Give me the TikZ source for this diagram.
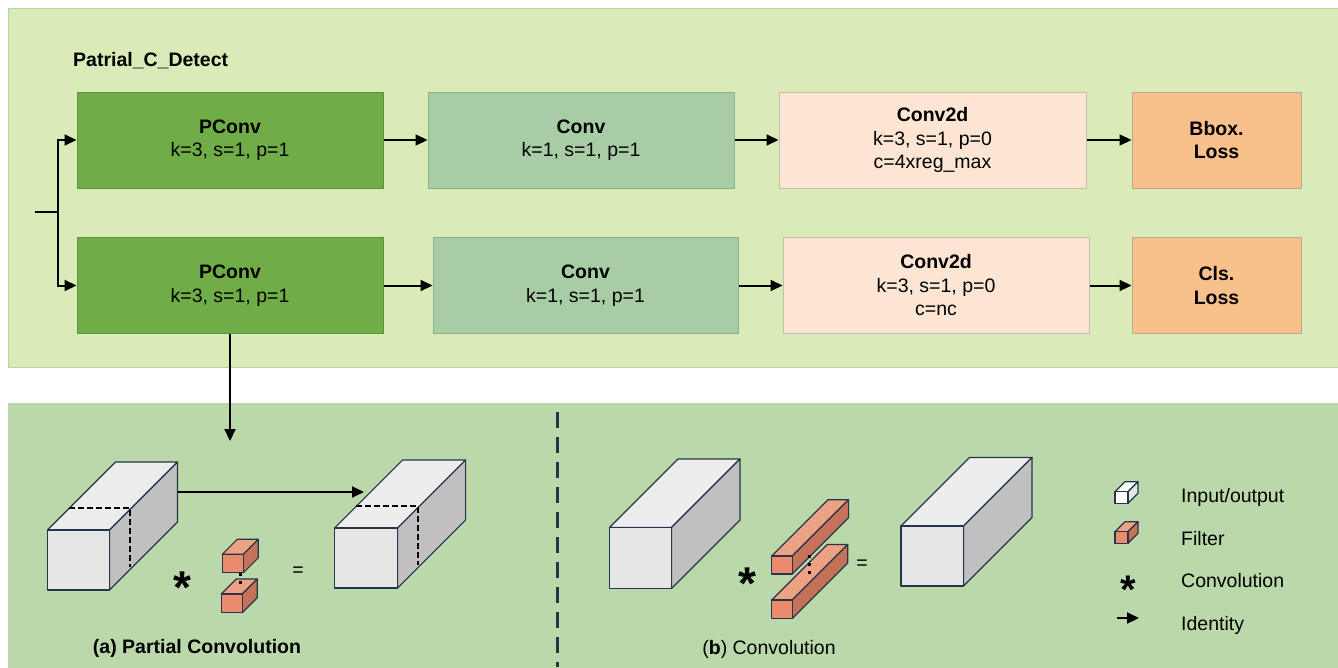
\documentclass[tikz,border=0pt]{standalone}
\usepackage{fontspec}
\setmainfont{Liberation Sans}
\usetikzlibrary{positioning,arrows.meta}

\definecolor{panelA}{HTML}{D9EBB7}
\definecolor{panelAedge}{HTML}{BCD2A0}
\definecolor{panelB}{HTML}{BAD8A9}
\definecolor{pconvgreen}{HTML}{70AD47}
\definecolor{pconvedge}{HTML}{5F9140}
\definecolor{convgreen}{HTML}{A8CDA5}
\definecolor{convedge}{HTML}{8FAF8C}
\definecolor{headpeach}{HTML}{FDE5D3}
\definecolor{headedge}{HTML}{C9BBB0}
\definecolor{lossorange}{HTML}{F8C08B}
\definecolor{lossedge}{HTML}{B9A894}
\definecolor{edgenavy}{HTML}{263549}
\definecolor{iofront}{HTML}{E6E6E6}
\definecolor{iotop}{HTML}{EDEDED}
\definecolor{ioside}{HTML}{C0C0C0}
\definecolor{flfront}{HTML}{EA8B6D}
\definecolor{fltop}{HTML}{EEA284}
\definecolor{flside}{HTML}{C4735A}
\definecolor{lgfront}{HTML}{FFFFFF}
\definecolor{lgtop}{HTML}{FFFFFF}
\definecolor{lgside}{HTML}{E6E6E6}

\tikzset{cubeedge/.style={draw=edgenavy,line width=1.2pt,line join=round}}

\newcommand{\boxprism}[6]{%
	\filldraw[cubeedge,fill=#6top] (#1,#2) -- ++(#3,0) -- ++(#5,-#5) -- ++(-#3,0) -- cycle;
	\filldraw[cubeedge,fill=#6side] ({#1+#3},#2) -- ++(#5,-#5) -- ++(0,#4) -- ++(-#5,#5) -- cycle;
	\filldraw[cubeedge,fill=#6front] (#1,#2) rectangle ++(#3,#4);
}

\begin{document}
\begin{tikzpicture}[x=1pt,y=-1pt,
		font=\fontsize{19.5}{23.5}\selectfont,
		stage/.style={minimum height=96pt,inner sep=0pt,align=center,line width=1pt},
		pconv/.style={stage,minimum width=306pt,fill=pconvgreen,draw=pconvedge},
		conv/.style={stage,minimum width=306pt,fill=convgreen,draw=convedge},
		head/.style={stage,minimum width=307pt,fill=headpeach,draw=headedge},
		loss/.style={stage,minimum width=169pt,fill=lossorange,draw=lossedge,font=\fontsize{19.5}{23.5}\selectfont\bfseries},
		flow/.style={line width=2pt,-{Triangle[length=12pt,width=11pt]}},
		slice/.style={line width=2pt,dash pattern=on 6pt off 3pt},
		convsym/.style={inner sep=0pt,font=\fontsize{46}{46}\selectfont\bfseries},
		legendtext/.style={anchor=base west,inner sep=0pt}]
	\useasboundingbox (0,0) rectangle (1338,667);
	\filldraw[fill=panelA,draw=panelAedge,line width=1pt] (8,8) rectangle (1345,367);
	\fill[panelB] (8,403) rectangle (1345,670);

	\node[anchor=base west,inner sep=0pt,font=\fontsize{19.5}{23.5}\selectfont\bfseries] (title) at (73,66.5) {Patrial\_C\_Detect};

	\node[pconv] (p1) at (230,140) {\textbf{PConv}\\k=3, s=1, p=1};
	\node[conv] (c1) at (581,140) {\textbf{Conv}\\k=1, s=1, p=1};
	\node[head] (h1) at (932.5,140) {\textbf{Conv2d}\\k=3, s=1, p=0\\c=4xreg\_max};
	\node[loss] (l1) at (1216.5,140) {Bbox.\\Loss};
	\node[pconv] (p2) at (230,285.5) {\textbf{PConv}\\k=3, s=1, p=1};
	\node[conv,minimum width=305pt] (c2) at (585.5,285.5) {\textbf{Conv}\\k=1, s=1, p=1};
	\node[head,minimum width=306pt] (h2) at (936,285.5) {\textbf{Conv2d}\\k=3, s=1, p=0\\c=nc};
	\node[loss] (l2) at (1216.5,285.5) {Cls.\\Loss};

	\coordinate (in) at (35,212);
	\coordinate (split) at (58,212);
	\coordinate (drop) at (230,441);
	\draw[line width=2pt] (in) -- (split);
	\draw[flow] (split) |- (p1.west);
	\draw[flow] (split) |- (p2.west);
	\draw[flow] (p1) -- (c1);
	\draw[flow] (c1) -- (h1);
	\draw[flow] (h1) -- (l1);
	\draw[flow] (p2) -- (c2);
	\draw[flow] (c2) -- (h2);
	\draw[flow] (h2) -- (l2);
	\draw[flow] (p2.south) -- (drop);

	\boxprism{47.5}{530}{62}{60}{68}{io}
	\draw[slice] (69,508) -- (130,508) -- (130,567);
	\boxprism{334.6}{528}{63}{60}{68}{io}
	\draw[slice] (356.4,505.7) -- (418,505.7) -- (418,565);
	\coordinate (cubeA) at (177.5,492);
	\coordinate (cubeB) at (364,492);
	\draw[flow] (cubeA) -- (cubeB);
	\boxprism{222.3}{554.3}{21}{18.5}{15}{fl}
	\boxprism{221.3}{594}{21}{18.7}{15}{fl}
	\draw[line width=3pt,dash pattern=on 3pt off 5pt] (240,573) -- (240,586);
	\node[convsym] (stara) at (182,588) {*};
	\node[inner sep=0pt] (eqa) at (298,572) {=};
	\node[inner sep=0pt,font=\fontsize{19.5}{23.5}\selectfont\bfseries] (capa) at (197,648) {(a) Partial Convolution};

	\draw[edgenavy,line width=3pt,dash pattern=on 16pt off 9pt] (557,412) -- (557,667);

	\boxprism{609.5}{527.5}{62}{61}{68.5}{io}
	\boxprism{901}{526}{62.5}{60}{68.5}{io}
	\boxprism{771.7}{556}{20.6}{18}{56.3}{fl}
	\boxprism{771.7}{600}{20.6}{18.5}{55.5}{fl}
	\draw[line width=3pt,dash pattern=on 3pt off 5pt] (809,555) -- (809,575);
	\node[convsym] (starb) at (747,584) {*};
	\node[inner sep=0pt] (eqb) at (862,565) {=};
	\node[inner sep=0pt] (capb) at (769,649) {(\textbf{b}) Convolution};

	\boxprism{1115}{491.7}{13}{11.6}{10}{lg}
	\boxprism{1115}{531.7}{13}{11.6}{10}{fl}
	\node[convsym,font=\fontsize{40}{40}\selectfont\bfseries] (starl) at (1128,590) {*};
	\coordinate (lgA) at (1117,618);
	\coordinate (lgB) at (1139,618);
	\draw[flow] (lgA) -- (lgB);
	\node[legendtext] (lio) at (1181,502.5) {Input/output};
	\node[legendtext] (lfl) at (1181,545) {Filter};
	\node[legendtext] (lcv) at (1181,587.7) {Convolution};
	\node[legendtext] (lid) at (1181,630) {Identity};
\end{tikzpicture}
\end{document}
